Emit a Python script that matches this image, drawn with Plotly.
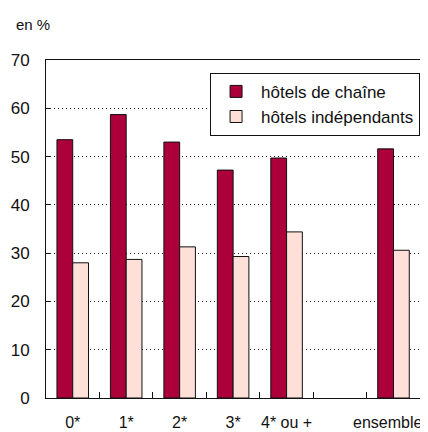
import plotly.graph_objects as go

categories = ["0*", "1*", "2*", "3*", "4* ou +", " ", "ensemble"]
tick_labels = ["0*", "1*", "2*", "3*", "4* ou +", "", ""]
chain_values = [53.5, 58.7, 53.0, 47.2, 49.7, None, 51.6]
independent_values = [28.0, 28.7, 31.3, 29.3, 34.4, None, 30.6]
y_ticks = [0, 10, 20, 30, 40, 50, 60, 70]

COLORS = {
    'chain': '#ab0039',
    'independent': '#ffe0d8',
    'text': '#111111',
}

fig = go.Figure()
fig.add_trace(go.Bar(
    x=categories, y=chain_values, name="hôtels de chaîne",
    marker=dict(color=COLORS['chain'], line=dict(color='#111111', width=1)),
))
fig.add_trace(go.Bar(
    x=categories, y=independent_values, name="hôtels indépendants",
    marker=dict(color=COLORS['independent'], line=dict(color='#111111', width=1)),
))

# page body adds an 8px margin, so the figure is 8px smaller than the window
fig.update_layout(
    width=420, height=424,
    paper_bgcolor='white', plot_bgcolor='white',
    font={'color': COLORS['text'], 'family': 'Liberation Sans', 'size': 16},
    barmode='group', bargap=0.41, bargroupgap=0,
    margin=dict(l=38, r=4, t=52, b=34, autoexpand=False),
    legend=dict(
        x=0.434, y=0.962, xanchor='left', yanchor='top',
        bgcolor='white', bordercolor='#111111', borderwidth=1,
        font=dict(size=17), tracegroupgap=0, itemwidth=40,
    ),
    xaxis=dict(
        type='category', categoryorder='array', categoryarray=categories,
        tickvals=categories, ticktext=tick_labels, tickangle=0,
        tickson='boundaries', ticks='inside', ticklen=6, tickcolor='#111111',
        showline=True, linecolor='#111111', linewidth=1, mirror=True,
        showgrid=False, ticklabelstandoff=10, automargin=False,
        tickfont=dict(size=16),
    ),
    yaxis=dict(
        range=[0, 70], tickvals=y_ticks,
        ticks='inside', ticklen=4, tickcolor='#111111',
        showline=True, linecolor='#111111', linewidth=1, mirror=True,
        showgrid=True, gridcolor='#222222', griddash='1px,3px', gridwidth=1,
        zeroline=False, ticklabelstandoff=12, automargin=False,
        tickfont=dict(size=17),
    ),
    annotations=[
        dict(text="en %", xref='paper', yref='paper', x=-0.085, y=1.075,
             xanchor='left', yanchor='bottom', showarrow=False, font=dict(size=15)),
        # last category label sits a bit left so it stays inside the page
        dict(text=categories[-1], xref='x', yref='paper', x=categories[-1], y=0,
             xanchor='center', yanchor='top', xshift=-6, yshift=-14,
             showarrow=False, font=dict(size=16)),
    ],
)

fig.write_html("out.html")
